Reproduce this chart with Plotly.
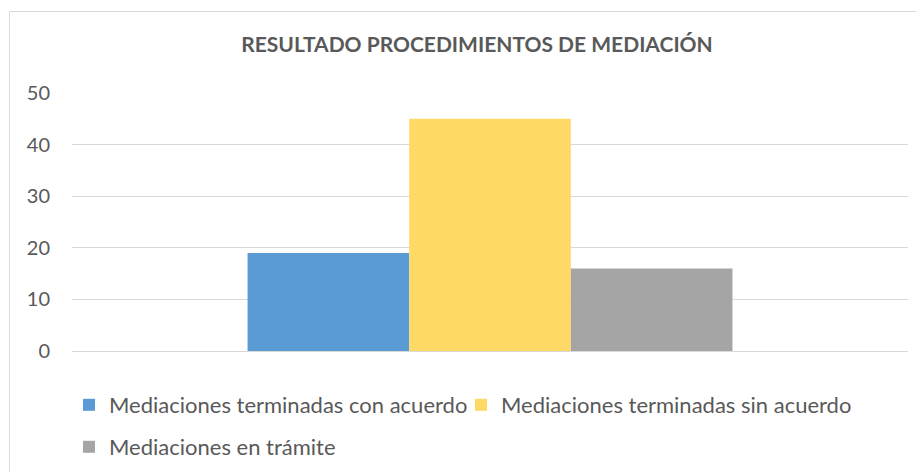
import plotly.graph_objects as go

categories = ["Resultado"]
series_names = ["Mediaciones terminadas con acuerdo",
                "Mediaciones terminadas sin acuerdo",
                "Mediaciones en trámite"]
series_values = [[19], [45], [16]]
series_colors = ["#5B9BD5", "#FFD966", "#A5A5A5"]
y_ticks = [0, 10, 20, 30, 40, 50]
title_text = "RESULTADO PROCEDIMIENTOS DE MEDIACIÓN"

FONT = "Lato"
TXT = "#595959"
OFF = 8  # page body margin

fig = go.Figure()
legends = ["legend", "legend", "legend2"]
for name, vals, col, lg in zip(series_names, series_values, series_colors, legends):
    fig.add_trace(go.Bar(x=categories, y=vals, name=name, marker_color=col,
                         marker_line_width=0, legend=lg))

W, H = 924 - OFF, 472 - OFF
L, R, T, B = 72 - OFF, 16, 93 - OFF, 472 - 351
pw, ph = W - L - R, H - T - B

def px_x(p):  # page pixel -> paper
    return (p - OFF - L) / pw

def px_y(p):
    return (H - B - (p - OFF)) / ph

fig.update_layout(
    width=W, height=H,
    margin=dict(l=L, r=R, t=T, b=B, autoexpand=False),
    paper_bgcolor="white", plot_bgcolor="white",
    font=dict(family=FONT, color=TXT, size=19),
    barmode="group", bargap=0.42, bargroupgap=0,
    title=dict(text="<b>" + title_text + "</b>", x=(477 - OFF) / W, xanchor="center",
               y=1 - (45 - OFF) / H, yanchor="middle", xref="container", yref="container",
               font=dict(family=FONT, size=21, color=TXT)),
    xaxis=dict(showticklabels=False, showgrid=False, zeroline=False, showline=False,
               ticks="", automargin=False),
    yaxis=dict(range=[0, 50], tickvals=y_ticks, showgrid=True, gridcolor="#D9D9D9",
               gridwidth=1, zeroline=True, zerolinecolor="#D9D9D9", zerolinewidth=1,
               showline=False, ticks="", ticklabelstandoff=21, automargin=False,
               tickfont=dict(family=FONT, size=20, color=TXT)),
    legend=dict(orientation="h", x=px_x(69), xanchor="left", y=px_y(405),
                yanchor="middle", font=dict(family=FONT, size=22, color=TXT),
                entrywidth=347, entrywidthmode="pixels",
                bgcolor="rgba(0,0,0,0)", itemclick=False, traceorder="normal"),
    legend2=dict(orientation="h", x=px_x(69), xanchor="left", y=px_y(447),
                 yanchor="middle", font=dict(family=FONT, size=22, color=TXT),
                 bgcolor="rgba(0,0,0,0)", itemclick=False),
    showlegend=True,
    shapes=[dict(type="rect", xref="paper", yref="paper",
                 x0=px_x(9.5), x1=px_x(950), y0=px_y(500), y1=px_y(11.5),
                 line=dict(color="#D9D9D9", width=1), fillcolor="rgba(0,0,0,0)",
                 layer="below")],
)

fig.write_html("out.html")
